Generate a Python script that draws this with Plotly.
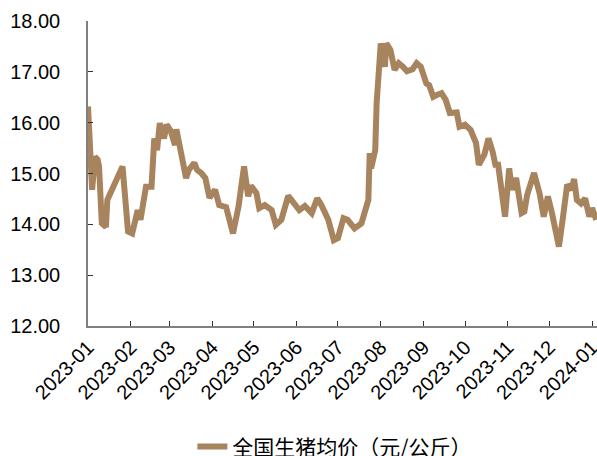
import plotly.graph_objects as go

dates = [
    "2023-01-01", "2023-01-04", "2023-01-06", "2023-01-08", "2023-01-09", "2023-01-11",
    "2023-01-14", "2023-01-15", "2023-01-26", "2023-01-30", "2023-02-02", "2023-02-06",
    "2023-02-08", "2023-02-12", "2023-02-16", "2023-02-18", "2023-02-20", "2023-02-22",
    "2023-02-25", "2023-02-27", "2023-03-02", "2023-03-05", "2023-03-06", "2023-03-09",
    "2023-03-13", "2023-03-15", "2023-03-19", "2023-03-21", "2023-03-24", "2023-03-27",
    "2023-03-30", "2023-04-03", "2023-04-06", "2023-04-11", "2023-04-16", "2023-04-20",
    "2023-04-24", "2023-04-27", "2023-04-29", "2023-05-03", "2023-05-05", "2023-05-09",
    "2023-05-14", "2023-05-17", "2023-05-21", "2023-05-26", "2023-05-29", "2023-06-03",
    "2023-06-07", "2023-06-12", "2023-06-16", "2023-06-19", "2023-06-24", "2023-06-28",
    "2023-07-01", "2023-07-05", "2023-07-08", "2023-07-13", "2023-07-18", "2023-07-21",
    "2023-07-23", "2023-07-24", "2023-07-25", "2023-07-28", "2023-07-29", "2023-08-01",
    "2023-08-04", "2023-08-05", "2023-08-08", "2023-08-11", "2023-08-14", "2023-08-17",
    "2023-08-20", "2023-08-24", "2023-08-27", "2023-08-30", "2023-09-03", "2023-09-05",
    "2023-09-08", "2023-09-11", "2023-09-14", "2023-09-17", "2023-09-20", "2023-09-25",
    "2023-09-27", "2023-10-01", "2023-10-05", "2023-10-09", "2023-10-11", "2023-10-15",
    "2023-10-18", "2023-10-21", "2023-10-23", "2023-10-25", "2023-10-30", "2023-11-02",
    "2023-11-04", "2023-11-07", "2023-11-11", "2023-11-13", "2023-11-15", "2023-11-20",
    "2023-11-24", "2023-11-27", "2023-11-30", "2023-12-03", "2023-12-08", "2023-12-11",
    "2023-12-14", "2023-12-17", "2023-12-19", "2023-12-21", "2023-12-24", "2023-12-27",
    "2023-12-30", "2024-01-01", "2024-01-04",
]
prices = [
    16.32, 14.68, 15.33, 15.27, 15.14, 14.02,
    13.95, 14.48, 15.14, 13.86, 13.82, 14.28,
    14.09, 14.74, 14.74, 15.69, 15.46, 15.99,
    15.69, 15.96, 15.83, 15.56, 15.87, 15.50,
    14.91, 15.07, 15.21, 15.07, 15.01, 14.91,
    14.52, 14.68, 14.38, 14.34, 13.82, 14.35,
    15.14, 14.55, 14.76, 14.61, 14.32, 14.38,
    14.28, 13.99, 14.09, 14.56, 14.45, 14.28,
    14.36, 14.22, 14.51, 14.38, 14.09, 13.69,
    13.73, 14.12, 14.09, 13.92, 14.02, 14.25,
    14.48, 15.40, 15.10, 15.46, 16.38, 17.56,
    17.10, 17.56, 17.43, 17.04, 17.17, 17.10,
    17.01, 17.05, 17.17, 17.10, 16.77, 16.74,
    16.51, 16.55, 16.58, 16.45, 16.19, 16.20,
    15.92, 15.96, 15.86, 15.60, 15.17, 15.37,
    15.69, 15.43, 15.17, 15.17, 14.15, 15.10,
    14.68, 14.91, 14.22, 14.25, 14.58, 15.01,
    14.61, 14.15, 14.55, 14.22, 13.56, 14.15,
    14.78, 14.68, 14.89, 14.48, 14.41, 14.51,
    14.15, 14.32, 14.09,
]
series_name = "全国生猪均价（元/公斤）"
y_ticks = [12, 13, 14, 15, 16, 17, 18]

line_color = "rgb(168,132,94)"
axis_color = "#808080"

fig = go.Figure()
fig.add_trace(go.Scatter(
    x=dates, y=prices, mode="lines", name=series_name,
    line=dict(color=line_color, width=6),
))

fig.update_layout(
    width=597, height=456,
    margin=dict(l=88, r=0, t=21, b=130),
    paper_bgcolor="white", plot_bgcolor="white",
    font=dict(family="Liberation Sans, Arial, sans-serif", size=20, color="#000000"),
    showlegend=True,
    legend=dict(
        orientation="h", x=0.485, xanchor="center",
        yref="container", y=0.02, yanchor="middle",
        font=dict(family="Noto Sans CJK SC", size=21, color="#000000"),
        bgcolor="rgba(0,0,0,0)",
    ),
    xaxis=dict(
        type="date", automargin=False,
        range=["2023-01-01", "2024-01-04 14:00"],
        dtick="M1", tick0="2023-01-01", tickformat="%Y-%m", tickangle=-45,
        ticks="inside", ticklen=5, tickwidth=1.2, tickcolor="#333333",
        showline=True, linecolor=axis_color, linewidth=1.5,
        showgrid=False, zeroline=False, ticklabeloverflow="allow",
        tickfont=dict(size=20),
    ),
    yaxis=dict(
        range=[12, 18], tickvals=y_ticks, tickformat=".2f", automargin=False,
        ticks="inside", ticklen=5, tickwidth=1.2, tickcolor="#333333",
        showline=True, linecolor=axis_color, linewidth=1.5,
        showgrid=False, zeroline=False,
        ticklabelstandoff=22,
        tickfont=dict(size=20),
    ),
)

fig.write_html("out.html", config={"displayModeBar": False},
               post_script="document.body.style.margin='0';")
